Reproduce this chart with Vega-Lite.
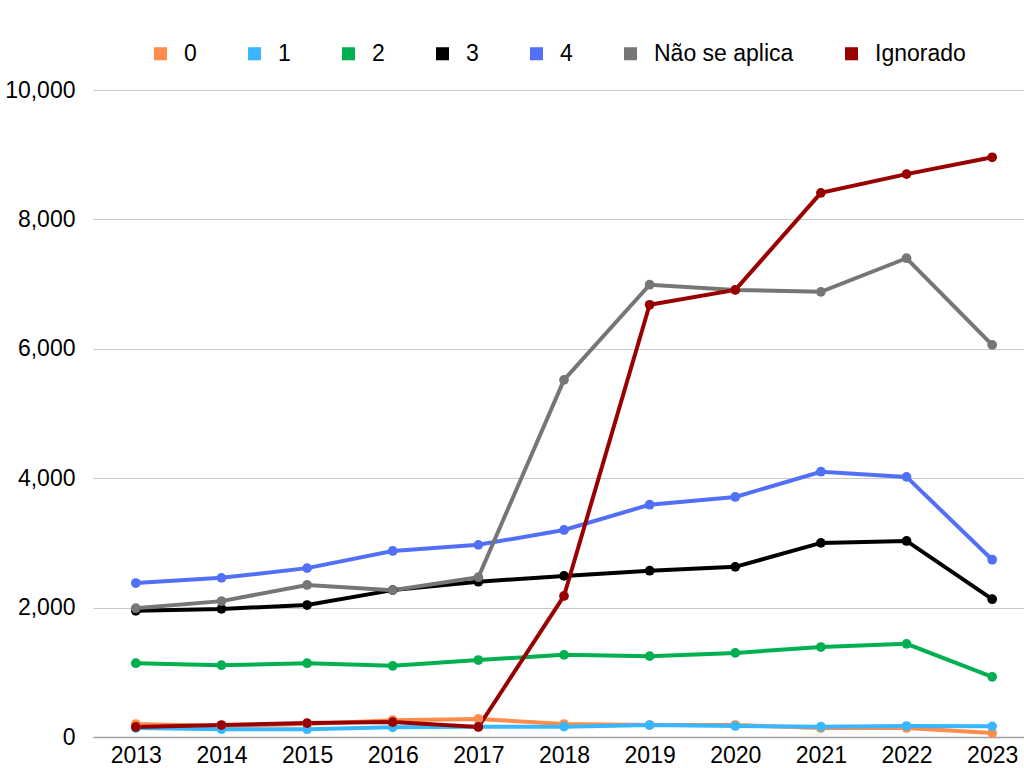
{
  "$schema": "https://vega.github.io/schema/vega-lite/v6.json",
  "width": 942,
  "height": 647,
  "autosize": "none",
  "padding": {"left": 93, "top": 90, "right": 0, "bottom": 31},
  "background": "white",
  "config": {
    "font": "Liberation Sans",
    "view": {"stroke": null}
  },
  "data": {
    "values": [
      {"ano": "2013", "serie": "0", "valor": 200},
      {"ano": "2014", "serie": "0", "valor": 170},
      {"ano": "2015", "serie": "0", "valor": 200},
      {"ano": "2016", "serie": "0", "valor": 260},
      {"ano": "2017", "serie": "0", "valor": 280},
      {"ano": "2018", "serie": "0", "valor": 200},
      {"ano": "2019", "serie": "0", "valor": 185},
      {"ano": "2020", "serie": "0", "valor": 185},
      {"ano": "2021", "serie": "0", "valor": 140},
      {"ano": "2022", "serie": "0", "valor": 140},
      {"ano": "2023", "serie": "0", "valor": 60},
      {"ano": "2013", "serie": "1", "valor": 140},
      {"ano": "2014", "serie": "1", "valor": 120},
      {"ano": "2015", "serie": "1", "valor": 120},
      {"ano": "2016", "serie": "1", "valor": 150},
      {"ano": "2017", "serie": "1", "valor": 160},
      {"ano": "2018", "serie": "1", "valor": 160},
      {"ano": "2019", "serie": "1", "valor": 185},
      {"ano": "2020", "serie": "1", "valor": 170},
      {"ano": "2021", "serie": "1", "valor": 160},
      {"ano": "2022", "serie": "1", "valor": 170},
      {"ano": "2023", "serie": "1", "valor": 165},
      {"ano": "2013", "serie": "2", "valor": 1140},
      {"ano": "2014", "serie": "2", "valor": 1110},
      {"ano": "2015", "serie": "2", "valor": 1140},
      {"ano": "2016", "serie": "2", "valor": 1100},
      {"ano": "2017", "serie": "2", "valor": 1190},
      {"ano": "2018", "serie": "2", "valor": 1270},
      {"ano": "2019", "serie": "2", "valor": 1250},
      {"ano": "2020", "serie": "2", "valor": 1300},
      {"ano": "2021", "serie": "2", "valor": 1390},
      {"ano": "2022", "serie": "2", "valor": 1440},
      {"ano": "2023", "serie": "2", "valor": 930},
      {"ano": "2013", "serie": "3", "valor": 1950},
      {"ano": "2014", "serie": "3", "valor": 1980},
      {"ano": "2015", "serie": "3", "valor": 2040},
      {"ano": "2016", "serie": "3", "valor": 2270},
      {"ano": "2017", "serie": "3", "valor": 2400},
      {"ano": "2018", "serie": "3", "valor": 2490},
      {"ano": "2019", "serie": "3", "valor": 2570},
      {"ano": "2020", "serie": "3", "valor": 2630},
      {"ano": "2021", "serie": "3", "valor": 3000},
      {"ano": "2022", "serie": "3", "valor": 3030},
      {"ano": "2023", "serie": "3", "valor": 2130},
      {"ano": "2013", "serie": "4", "valor": 2380},
      {"ano": "2014", "serie": "4", "valor": 2460},
      {"ano": "2015", "serie": "4", "valor": 2610},
      {"ano": "2016", "serie": "4", "valor": 2875},
      {"ano": "2017", "serie": "4", "valor": 2970},
      {"ano": "2018", "serie": "4", "valor": 3200},
      {"ano": "2019", "serie": "4", "valor": 3590},
      {"ano": "2020", "serie": "4", "valor": 3710},
      {"ano": "2021", "serie": "4", "valor": 4100},
      {"ano": "2022", "serie": "4", "valor": 4020},
      {"ano": "2023", "serie": "4", "valor": 2740},
      {"ano": "2013", "serie": "Não se aplica", "valor": 1990},
      {"ano": "2014", "serie": "Não se aplica", "valor": 2100},
      {"ano": "2015", "serie": "Não se aplica", "valor": 2350},
      {"ano": "2016", "serie": "Não se aplica", "valor": 2270},
      {"ano": "2017", "serie": "Não se aplica", "valor": 2470},
      {"ano": "2018", "serie": "Não se aplica", "valor": 5520},
      {"ano": "2019", "serie": "Não se aplica", "valor": 6990},
      {"ano": "2020", "serie": "Não se aplica", "valor": 6910},
      {"ano": "2021", "serie": "Não se aplica", "valor": 6880},
      {"ano": "2022", "serie": "Não se aplica", "valor": 7400},
      {"ano": "2023", "serie": "Não se aplica", "valor": 6060},
      {"ano": "2013", "serie": "Ignorado", "valor": 155},
      {"ano": "2014", "serie": "Ignorado", "valor": 185},
      {"ano": "2015", "serie": "Ignorado", "valor": 215},
      {"ano": "2016", "serie": "Ignorado", "valor": 230},
      {"ano": "2017", "serie": "Ignorado", "valor": 155},
      {"ano": "2018", "serie": "Ignorado", "valor": 2180},
      {"ano": "2019", "serie": "Ignorado", "valor": 6680},
      {"ano": "2020", "serie": "Ignorado", "valor": 6910},
      {"ano": "2021", "serie": "Ignorado", "valor": 8410},
      {"ano": "2022", "serie": "Ignorado", "valor": 8700},
      {"ano": "2023", "serie": "Ignorado", "valor": 8960}
    ]
  },
  "encoding": {
    "x": {
      "field": "ano",
      "type": "ordinal",
      "scale": {"type": "point", "padding": 0.5},
      "axis": {
        "title": null,
        "labelAngle": 0,
        "labelFontSize": 23,
        "labelColor": "#000000",
        "labelPadding": 7,
        "ticks": false,
        "domainColor": "#a0a0a0",
        "domainWidth": 1.5,
        "grid": false
      }
    },
    "y": {
      "field": "valor",
      "type": "quantitative",
      "scale": {"domain": [0, 10000], "nice": false},
      "axis": {
        "title": null,
        "values": [0, 2000, 4000, 6000, 8000, 10000],
        "format": ",.0f",
        "labelFontSize": 23,
        "labelColor": "#000000",
        "labelPadding": 18,
        "ticks": false,
        "domain": false,
        "grid": true,
        "gridColor": "#c8c8c8",
        "gridWidth": 1
      }
    },
    "color": {
      "field": "serie",
      "type": "nominal",
      "scale": {
        "domain": ["0", "1", "2", "3", "4", "Não se aplica", "Ignorado"],
        "range": ["#ff8c4a", "#38b6ff", "#00b050", "#000000", "#5270f5", "#767676", "#990000"]
      },
      "legend": {
        "title": null,
        "orient": "none",
        "direction": "horizontal",
        "legendX": 56,
        "legendY": -48,
        "symbolType": "square",
        "symbolSize": 170,
        "symbolStrokeWidth": 0,
        "labelFontSize": 23,
        "labelColor": "#000000",
        "labelOffset": 12,
        "columnPadding": 46
      }
    }
  },
  "layer": [
    {"mark": {"type": "line", "strokeWidth": 4}},
    {"mark": {"type": "point", "filled": true, "size": 95, "opacity": 1}}
  ]
}
